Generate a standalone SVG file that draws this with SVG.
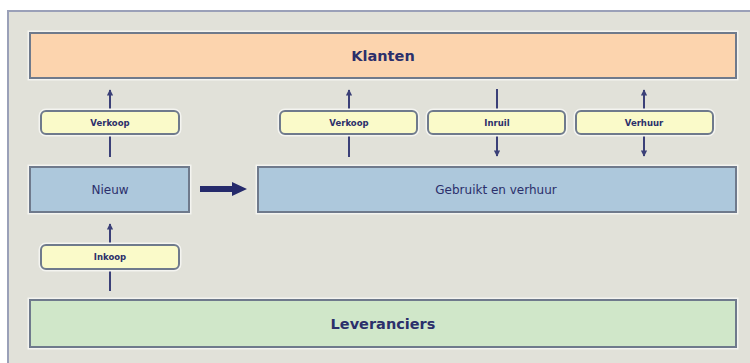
<svg xmlns="http://www.w3.org/2000/svg" width="750" height="363" viewBox="0 0 750 363">
  <defs>
    <style>
      .halo { fill: none; stroke: #f4f4f0; stroke-width: 5; }
      .box { stroke: #6f7a8c; stroke-width: 2; }
      .top { fill: #fcd4ae; }
      .bottom { fill: #d0e7c9; }
      .blue { fill: #adc8dc; }
      .tag { fill: #fafac9; stroke: #6f7a8c; stroke-width: 2; }
      .big { font-family: "DejaVu Sans", Verdana, sans-serif; font-weight: bold; font-size: 14.5px; fill: #2b2f6b; text-anchor: middle; }
      .mid { font-family: "DejaVu Sans", Verdana, sans-serif; font-size: 12px; fill: #2b2f6b; text-anchor: middle; }
      .small { font-family: "DejaVu Sans", Verdana, sans-serif; font-weight: bold; font-size: 8.5px; fill: #2b2f6b; text-anchor: middle; }
      .flow { stroke: #3b4078; stroke-width: 2; fill: none; }
    </style>
    <marker id="tip" viewBox="0 0 8 8" refX="7" refY="4" markerWidth="3.2" markerHeight="3.2" orient="auto-start-reverse" markerUnits="strokeWidth">
      <path d="M0,0 L8,4 L0,8 Z" fill="#3b4078"/>
    </marker>
  </defs>

  <!-- page and frame -->
  <rect x="0" y="0" width="750" height="363" fill="#ffffff"/>
  <rect x="8" y="11" width="750" height="360" fill="#e1e1d9" stroke="#9aa0b8" stroke-width="2"/>

  <!-- connectors -->
  <g id="connectors">
    <line class="flow" x1="110" y1="157" x2="110" y2="90" marker-end="url(#tip)"/>
    <line class="flow" x1="110" y1="291" x2="110" y2="224" marker-end="url(#tip)"/>
    <line class="flow" x1="349" y1="157" x2="349" y2="90" marker-end="url(#tip)"/>
    <line class="flow" x1="497" y1="89" x2="497" y2="156" marker-end="url(#tip)"/>
    <line class="flow" x1="644" y1="156" x2="644" y2="90" marker-start="url(#tip)" marker-end="url(#tip)"/>
    <path d="M200,186 L232,186 L232,182 L247,189 L232,196 L232,192 L200,192 Z" fill="#252a6b"/>
  </g>

  <g id="klanten">
    <rect class="halo" x="30" y="33" width="706" height="45"/>
    <rect class="box top" x="30" y="33" width="706" height="45"/>
    <text class="big" x="383" y="61">Klanten</text>
  </g>

  <g id="verkoop-nieuw">
    <rect class="halo" x="41" y="111" width="138" height="23" rx="5"/>
    <rect class="tag" x="41" y="111" width="138" height="23" rx="5"/>
    <text class="small" x="110" y="126">Verkoop</text>
  </g>

  <g id="verkoop-gebruikt">
    <rect class="halo" x="280" y="111" width="137" height="23" rx="5"/>
    <rect class="tag" x="280" y="111" width="137" height="23" rx="5"/>
    <text class="small" x="349" y="126">Verkoop</text>
  </g>

  <g id="inruil">
    <rect class="halo" x="428" y="111" width="137" height="23" rx="5"/>
    <rect class="tag" x="428" y="111" width="137" height="23" rx="5"/>
    <text class="small" x="497" y="126">Inruil</text>
  </g>

  <g id="verhuur">
    <rect class="halo" x="576" y="111" width="137" height="23" rx="5"/>
    <rect class="tag" x="576" y="111" width="137" height="23" rx="5"/>
    <text class="small" x="644" y="126">Verhuur</text>
  </g>

  <g id="nieuw">
    <rect class="halo" x="30" y="167" width="159" height="45"/>
    <rect class="box blue" x="30" y="167" width="159" height="45"/>
    <text class="mid" x="110" y="194">Nieuw</text>
  </g>

  <g id="gebruikt">
    <rect class="halo" x="258" y="167" width="478" height="45"/>
    <rect class="box blue" x="258" y="167" width="478" height="45"/>
    <text class="mid" x="496" y="194">Gebruikt en verhuur</text>
  </g>

  <g id="inkoop">
    <rect class="halo" x="41" y="245" width="138" height="24" rx="5"/>
    <rect class="tag" x="41" y="245" width="138" height="24" rx="5"/>
    <text class="small" x="110" y="260">Inkoop</text>
  </g>

  <g id="leveranciers">
    <rect class="halo" x="30" y="300" width="706" height="47"/>
    <rect class="box bottom" x="30" y="300" width="706" height="47"/>
    <text class="big" x="383" y="329">Leveranciers</text>
  </g>
</svg>
